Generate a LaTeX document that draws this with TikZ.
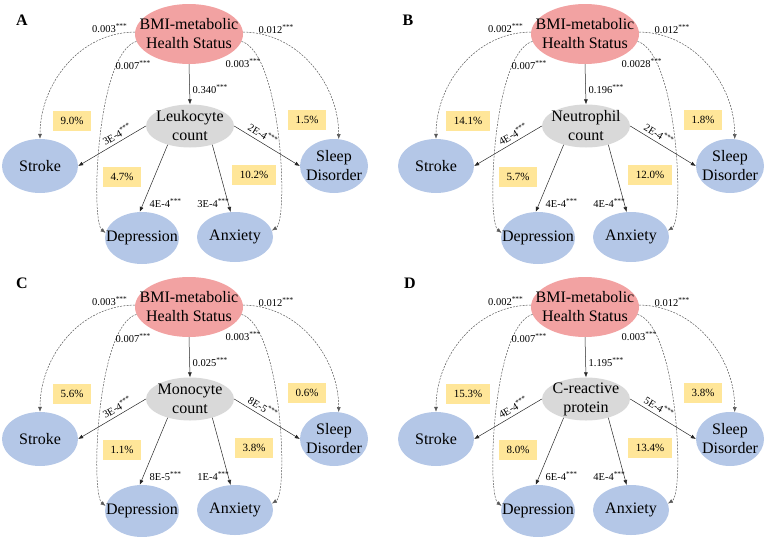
\documentclass[tikz,border=0pt]{standalone}
\usepackage{fontspec}
\setmainfont{Liberation Serif}
\usetikzlibrary{shapes.geometric,arrows.meta}

\definecolor{bmipink}{HTML}{F2A2A2}
\definecolor{medgray}{HTML}{D9D9D9}
\definecolor{outblue}{HTML}{B4C7E7}
\definecolor{pctyellow}{HTML}{FFE699}
\newcommand{\sig}{\textsuperscript{***}}

\begin{document}
\begin{tikzpicture} [
        x=1pt, y=-1pt,
        blob/.style n args={3}{
        ellipse, fill=#1,
        minimum width=#2, minimum height=#3,
        inner sep=0pt
        },
        blobtxt/.style={align=center, inner sep=0pt, font=\fontsize{16}{19}\selectfont},
        pct/.style={fill=pctyellow, inner xsep=7.5pt, inner ysep=0pt,
        minimum height=20pt, font=\fontsize{11}{13}\selectfont},
        coef/.style={inner sep=0.5pt, font=\fontsize{10.5}{12}\selectfont},
        path a/.style={-{Latex[length=5pt,width=4pt]}, line width=0.5pt, black!85},
        path c/.style={-{Latex[length=5pt,width=4pt]}, line width=0.5pt, black!65,
        dash pattern=on 2pt off 1.2pt},
        tag/.style={font=\fontsize{16}{16}\selectfont\bfseries}
    ]

    % 776 x 536, one unit is one pixel
    \useasboundingbox (0,0) rectangle (776,536);

    \foreach \sx/\sy/\lx/\ly/\tg/\med/\am/\ds/\dd/\da/\dl/\is/\id/\ia/\il/\ps/\pd/\pa/\pl in {
        0/0/22/20/A/{Leukocyte\\count}/0.340/0.003/0.007/0.003/0.012/3E-4/4E-4/3E-4/2E-4/9.0/4.7/10.2/1.5,
        396/0/408/20/B/{Neutrophil\\count}/0.196/0.002/0.007/0.0028/0.012/4E-4/4E-4/4E-4/2E-4/14.1/5.7/12.0/1.8,
        0/273/22/283/C/{Monocyte\\count}/0.025/0.003/0.007/0.003/0.012/3E-4/8E-5/1E-4/8E-5/5.6/1.1/3.8/0.6,
        396/273/410/283/D/{C-reactive\\protein}/1.195/0.002/0.007/0.003/0.012/4E-4/6E-4/4E-4/5E-4/15.3/8.0/13.4/3.8} {
        \node[tag] (tag\tg) at (\lx,\ly) {\tg};

        \begin{scope}[shift={(\sx,\sy)}]
            % ellipses
            \node[blob={bmipink}{108pt}{60pt},
                label={[blobtxt]center:BMI-metabolic\\Health Status}] (bmi) at (189,34) {};
            \node[blob={medgray}{88pt}{43pt}, label={[blobtxt]center:\med}] (med) at (190,126) {};
            \node[blob={outblue}{76pt}{54pt}, label={[blobtxt]center:Stroke}] (stroke) at (40,166) {};
            \node[blob={outblue}{68pt}{54pt}, label={[blobtxt]center:Sleep\\Disorder}] (sleep) at (334,166) {};
            \node[blob={outblue}{74pt}{52pt}, label={[blobtxt]center:Depression}] (dep) at (142,238) {};
            \node[blob={outblue}{76pt}{50pt}, label={[blobtxt]center:Anxiety}] (anx) at (235,237) {};

            % indirect paths
            \draw[path a] (bmi.south) -- (med.north);
            \draw[path a] (med.west) -- (stroke.east);
            \draw[path a] (med.east) -- (sleep.west);
            \draw[path a] (med.220) -- (dep.95);
            \draw[path a] (med.320) -- (anx.100);

            % direct paths
            \draw[path c] (bmi.178) .. controls +(-55,0) and +(0,-55) .. (stroke.north);
            \draw[path c] (bmi.188) .. controls +(-40,12) and +(-15,-12) .. (dep.172);
            \draw[path c] (bmi.2) .. controls +(55,0) and +(0,-55) .. (sleep.80);
            \draw[path c] (bmi.352) .. controls +(40,12) and +(17,-10) .. (anx.10);

            % coefficients
            \node[coef, anchor=east] (lds) at (128,28) {\ds\sig};
            \node[coef, anchor=west] (ldd) at (115,65) {\dd\sig};
            \node[coef, anchor=west] (lda) at (225,63) {\da\sig};
            \node[coef, anchor=west] (ldl) at (258,29) {\dl\sig};
            \node[coef, anchor=west] (lam) at (192,89) {\am\sig};
            \node[coef, rotate=30] (lis) at (117,134) {\is\sig};
            \node[coef, rotate=-31] (lil) at (263,134) {\il\sig};
            \node[coef, anchor=west] (lid) at (149,203) {\id\sig};
            \node[coef, anchor=east] (lia) at (230,203) {\ia\sig};

            % mediated proportions
            \node[pct] (pcs) at (72,121) {\ps\%};
            \node[pct] (pcd) at (122,177) {\pd\%};
            \node[pct] (pca) at (254,175) {\pa\%};
            \node[pct] (pcl) at (307,120) {\pl\%};
        \end{scope}
    }

\end{tikzpicture}
\end{document}
